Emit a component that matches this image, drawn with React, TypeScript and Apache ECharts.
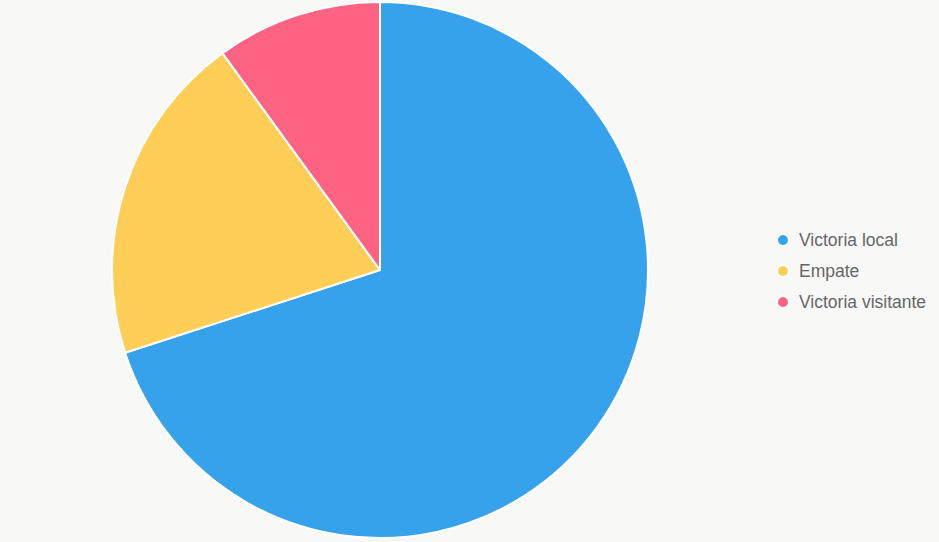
import { useEffect, useRef } from "react";
import * as echarts from "echarts";

const categories = ["Victoria local", "Empate", "Victoria visitante"];
const values = [70, 20, 10];
const colors = ["#36A2EB", "#FFCE56", "#FF6384"];

export default function App() {
  const chartRef = useRef<HTMLDivElement>(null);

  useEffect(() => {
    if (!chartRef.current) return;
    document.body.style.margin = "0";
    const chart = echarts.init(chartRef.current, undefined, { renderer: "svg" });

    chart.setOption({
      animation: false,
      backgroundColor: "#f8f8f7",
      color: colors,
      legend: {
        orient: "vertical",
        left: 771,
        top: 226,
        icon: "circle",
        itemWidth: 12,
        itemHeight: 12,
        itemGap: 13,
        itemStyle: { borderColor: "#ffffff", borderWidth: 2 },
        textStyle: {
          color: "#666666",
          fontSize: 17.5,
          fontFamily: "'Liberation Sans', Arial, sans-serif",
          padding: [0, 0, 0, 5],
        },
        data: categories,
      },
      series: [
        {
          type: "pie",
          center: [380, 270],
          radius: 268,
          startAngle: 90,
          clockwise: true,
          label: { show: false },
          labelLine: { show: false },
          emphasis: { scale: false },
          itemStyle: { borderColor: "#ffffff", borderWidth: 2 },
          data: categories.map((name, i) => ({ name, value: values[i] })),
        },
      ],
    });

    return () => chart.dispose();
  }, []);

  return <div ref={chartRef} style={{ width: 939, height: 542 }} />;
}
